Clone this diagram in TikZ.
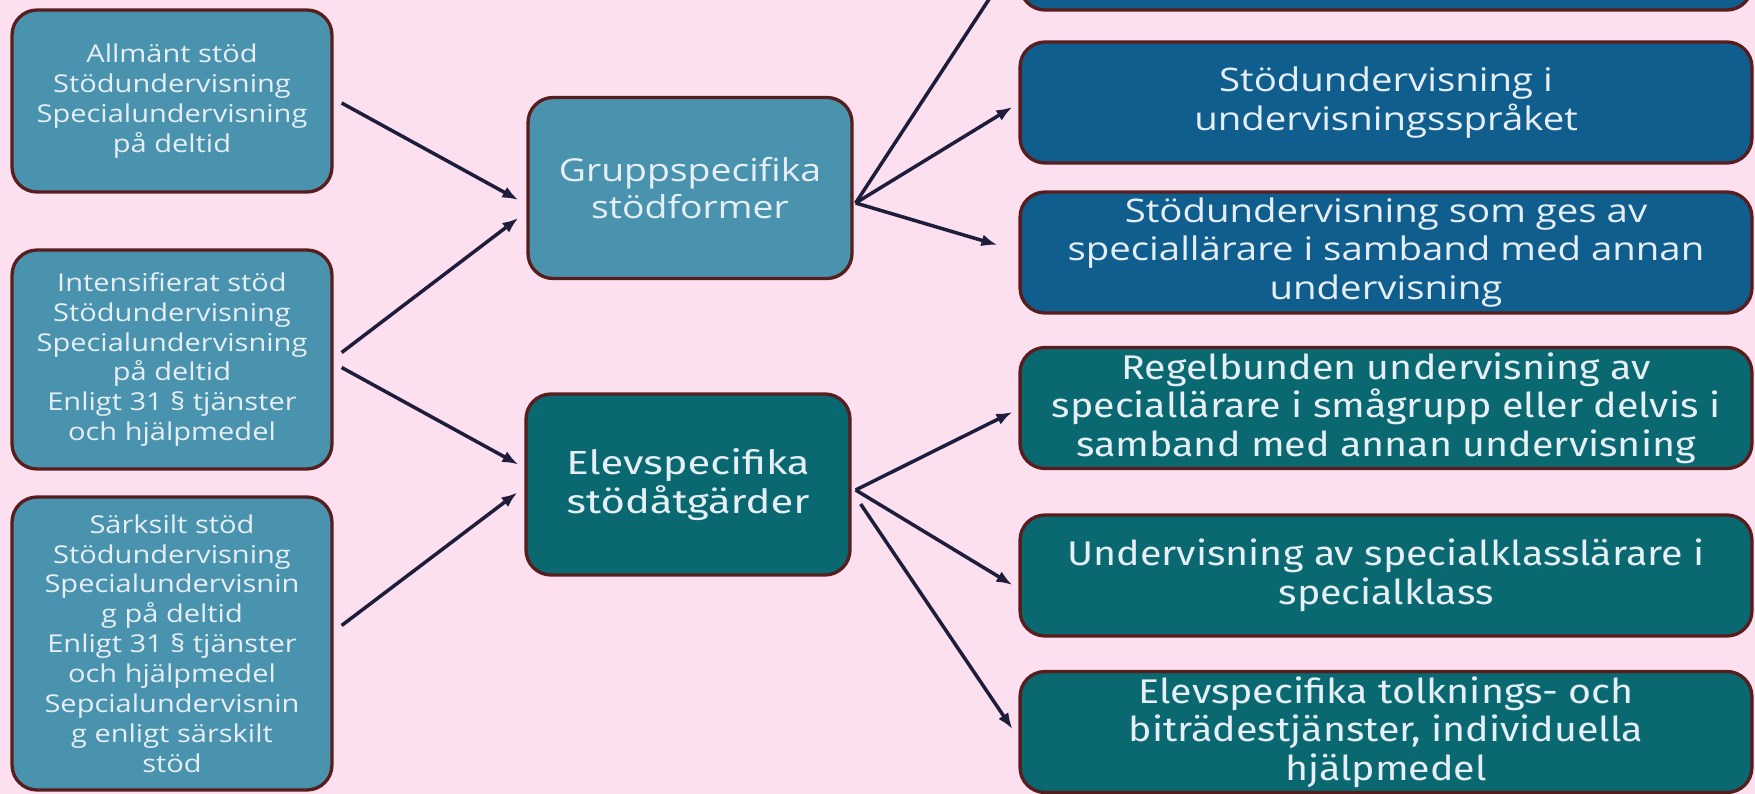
\documentclass[tikz,border=0pt]{standalone}
\usepackage{fontspec}
\setmainfont{Open Sans}
\newfontfamily\widefont[FakeStretch=1.18]{Open Sans}
\newfontfamily\plexfont[FakeStretch=1.15]{Fira Sans}
\newfontfamily\plexwide[FakeStretch=1.25]{Fira Sans}
\usepackage{xcolor}
\usetikzlibrary{positioning,calc,arrows.meta}

\definecolor{bgpink}{RGB}{252,224,240}
\definecolor{steelbox}{RGB}{74,147,174}
\definecolor{bluebox}{RGB}{16,94,142}
\definecolor{tealbox}{RGB}{10,104,112}
\definecolor{boxedge}{RGB}{88,30,30}
\definecolor{arrowink}{RGB}{30,30,60}
\definecolor{boxtext}{RGB}{230,238,246}

\tikzset{
  box/.style={draw=boxedge, line width=1.9pt, rounded corners=0.5cm,
    text=boxtext, align=center, inner sep=0pt},
  leftbox/.style={box, fill=steelbox, minimum width=6.4cm,
    font=\widefont\fontsize{14}{17}\selectfont},
  midbox/.style={box, minimum width=6.48cm, minimum height=3.62cm},
  rightbox/.style={box, minimum width=14.64cm, minimum height=2.42cm},
  bluebox/.style={rightbox, fill=bluebox, font=\widefont\fontsize{18.5}{22}\selectfont},
  tealbox/.style={rightbox, fill=tealbox, font=\plexfont\fontsize{19.5}{22}\selectfont},
  arrow/.style={-{Latex[length=0.32cm,width=0.24cm]}, draw=arrowink, line width=2pt}
}

\begin{document}
\begin{tikzpicture}[x=0.02cm,y=-0.02cm]
      \path[use as bounding box] (0,0) rectangle (1755,794);
      \clip (0,0) rectangle (1755,794);
      \fill[bgpink] (0,0) rectangle (1755,794);

      % Define the nodes of the left column
      \node[leftbox, minimum height=3.64cm] (allm) at (172,101)
        {Allmänt stöd\\Stödundervisning\\Specialundervisning\\på deltid};
      \node[leftbox, minimum height=4.38cm] (inte) at (172,359.5)
        {Intensifierat stöd\\Stödundervisning\\Specialundervisning\\på deltid\\Enligt 31 § tjänster\\och hjälpmedel};
      \node[leftbox, minimum height=5.86cm] (sark) at (172,643.5)
        {Särksilt stöd\\Stödundervisning\\Specialundervisnin\\g på deltid\\Enligt 31 § tjänster\\och hjälpmedel\\Sepcialundervisnin\\g enligt särskilt\\stöd};

      % Define the two nodes in the middle
      \node[midbox, fill=steelbox, font=\widefont\fontsize{18}{21.5}\selectfont] (grupp) at (690,188)
        {Gruppspecifika\\stödformer};
      \node[midbox, fill=tealbox, font=\plexwide\fontsize{19}{22}\selectfont] (elev) at (688,484.5)
        {Elevspecifika\\stödåtgärder};

      % Define the nodes of the right column
      \node[bluebox] (g0) at (1386,-50.5) {};
      \node[bluebox] (g1) at (1386,102.5)
        {Stödundervisning i\\undervisningsspråket};
      \node[bluebox] (g2) at (1386,252.5)
        {Stödundervisning som ges av\\speciallärare i samband med annan\\undervisning};
      \node[tealbox] (e1) at (1386,408)
        {Regelbunden undervisning av\\speciallärare i smågrupp eller delvis i\\samband med annan undervisning};
      \node[tealbox] (e2) at (1386,575.5)
        {Undervisning av specialklasslärare i\\specialklass};
      \node[tealbox] (e3) at (1386,732)
        {Elevspecifika tolknings- och\\biträdestjänster, individuella\\hjälpmedel};

      % Draw the arrows from the left column to the middle
      \draw[arrow] ($(allm.east)+(8,2)$) -- ($(grupp.west)+(-8,12)$);
      \draw[arrow] ($(inte.east)+(8,-7)$) -- ($(grupp.west)+(-8,30)$);
      \draw[arrow] ($(inte.east)+(8,8)$) -- ($(elev.west)+(-6,-20)$);
      \draw[arrow] ($(sark.east)+(8,-18)$) -- ($(elev.west)+(-7,8)$);

      % Draw the arrows from the middle to the right column
      \draw[arrow] ($(grupp.east)+(2,15)$) -- ($(g0.west)+(-6,14)$);
      \draw[arrow] ($(grupp.east)+(2,15)$) -- ($(g1.west)+(-6,4.5)$);
      \draw[arrow] ($(grupp.east)+(2,15)$) -- ($(g2.west)+(-21,-7.5)$);
      \draw[arrow] ($(elev.east)+(4,5.5)$) -- ($(e1.west)+(-6,4)$);
      \draw[arrow] ($(elev.east)+(4,5.5)$) -- ($(e2.west)+(-6,9.5)$);
      \draw[arrow] ($(elev.east)+(9,19.5)$) -- ($(e3.west)+(-6,-3)$);
\end{tikzpicture}
\end{document}
